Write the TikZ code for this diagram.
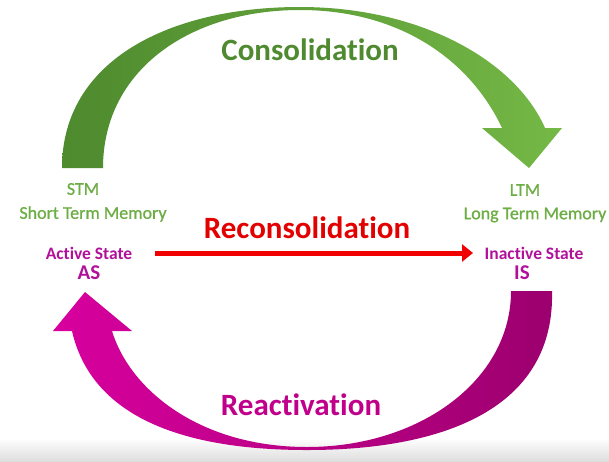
\documentclass[tikz,border=0pt]{standalone}
\usepackage{fontspec}
\setmainfont{Carlito}[Ligatures=NoCommon]
\newfontfamily\labelfont{Carlito}[FakeBold=0.9]
\usetikzlibrary{arrows.meta}
\definecolor{gdark}{HTML}{4E8A2E}
\definecolor{glight}{HTML}{74B846}
\definecolor{gtext}{HTML}{4F8A30}
\definecolor{glabel}{HTML}{6DAD45}
\definecolor{mleft}{HTML}{D8009E}
\definecolor{mmid}{HTML}{C8008F}
\definecolor{mright}{HTML}{9C006E}
\definecolor{mtext}{HTML}{C0008A}
\definecolor{mlabel}{HTML}{B0109A}
\definecolor{rarrow}{HTML}{F00000}
\definecolor{rtext}{HTML}{E20000}
\tikzset{
  bigtitle/.style={font=\fontsize{31}{31}\selectfont\bfseries, inner sep=0pt},
  memlabel/.style={font=\fontsize{18}{18}\selectfont\labelfont, text=glabel, inner sep=0pt},
  statelabel/.style={font=\fontsize{17.5}{17.5}\selectfont\bfseries, text=mlabel, inner sep=0pt},
  abbrev/.style={font=\fontsize{21}{21}\selectfont\bfseries, text=mlabel, inner sep=0pt},
  redarrow/.style={draw=rarrow, line width=5pt, -{Triangle[length=11pt,width=17pt]}},
}
\begin{document}
\begin{tikzpicture}[x=1pt,y=-1pt]
\useasboundingbox (0,0) rectangle (609,461);
% bottom grey band
\shade[top color=white, bottom color=black!13] (0,438) rectangle (609,461);
% green consolidation arc
\shade[left color=gdark, right color=glight]
  (62,168) .. controls (62,60) and (170,7) .. (300,7)
  .. controls (420,7) and (515,60) .. (545,128)
  -- (562,128) -- (529,168) -- (482,128) -- (502,128)
  .. controls (470,60) and (400,10) .. (300,10)
  .. controls (190,10) and (103,70) .. (103,168) -- cycle;
% magenta reactivation arc
\shade[left color=mleft, middle color=mmid, right color=mright]
  (552,291) .. controls (555,405) and (450,450) .. (307,450)
  .. controls (170,450) and (90,410) .. (72,331)
  -- (53,331) -- (85,292) -- (132,331) -- (112,331)
  .. controls (130,390) and (200,447) .. (307,447)
  .. controls (420,447) and (511,380) .. (511,291) -- cycle;
% titles
\node[bigtitle, text=gtext] (cons) at (310,50) {Consolidation};
\node[bigtitle, text=rtext] (recons) at (307,228) {Reconsolidation};
\node[bigtitle, text=mtext] (react) at (301,405) {Reactivation};
% left labels
\node[memlabel] (stm) at (83,189) {STM};
\node[memlabel] (stmfull) at (93,214) {Short Term Memory};
\node[statelabel] (act) at (89,253) {Active State};
\node[abbrev] (as) at (89,273) {AS};
% right labels
\node[memlabel] (ltm) at (525,190) {LTM};
\node[memlabel] (ltmfull) at (535,215) {Long Term Memory};
\node[statelabel] (inact) at (534,253) {Inactive State};
\node[abbrev] (is) at (522,273) {IS};
% red arrow
\coordinate (rs) at (155,253);
\coordinate (re) at (473,253);
\draw[redarrow] (rs) -- (re);
\end{tikzpicture}
\end{document}
